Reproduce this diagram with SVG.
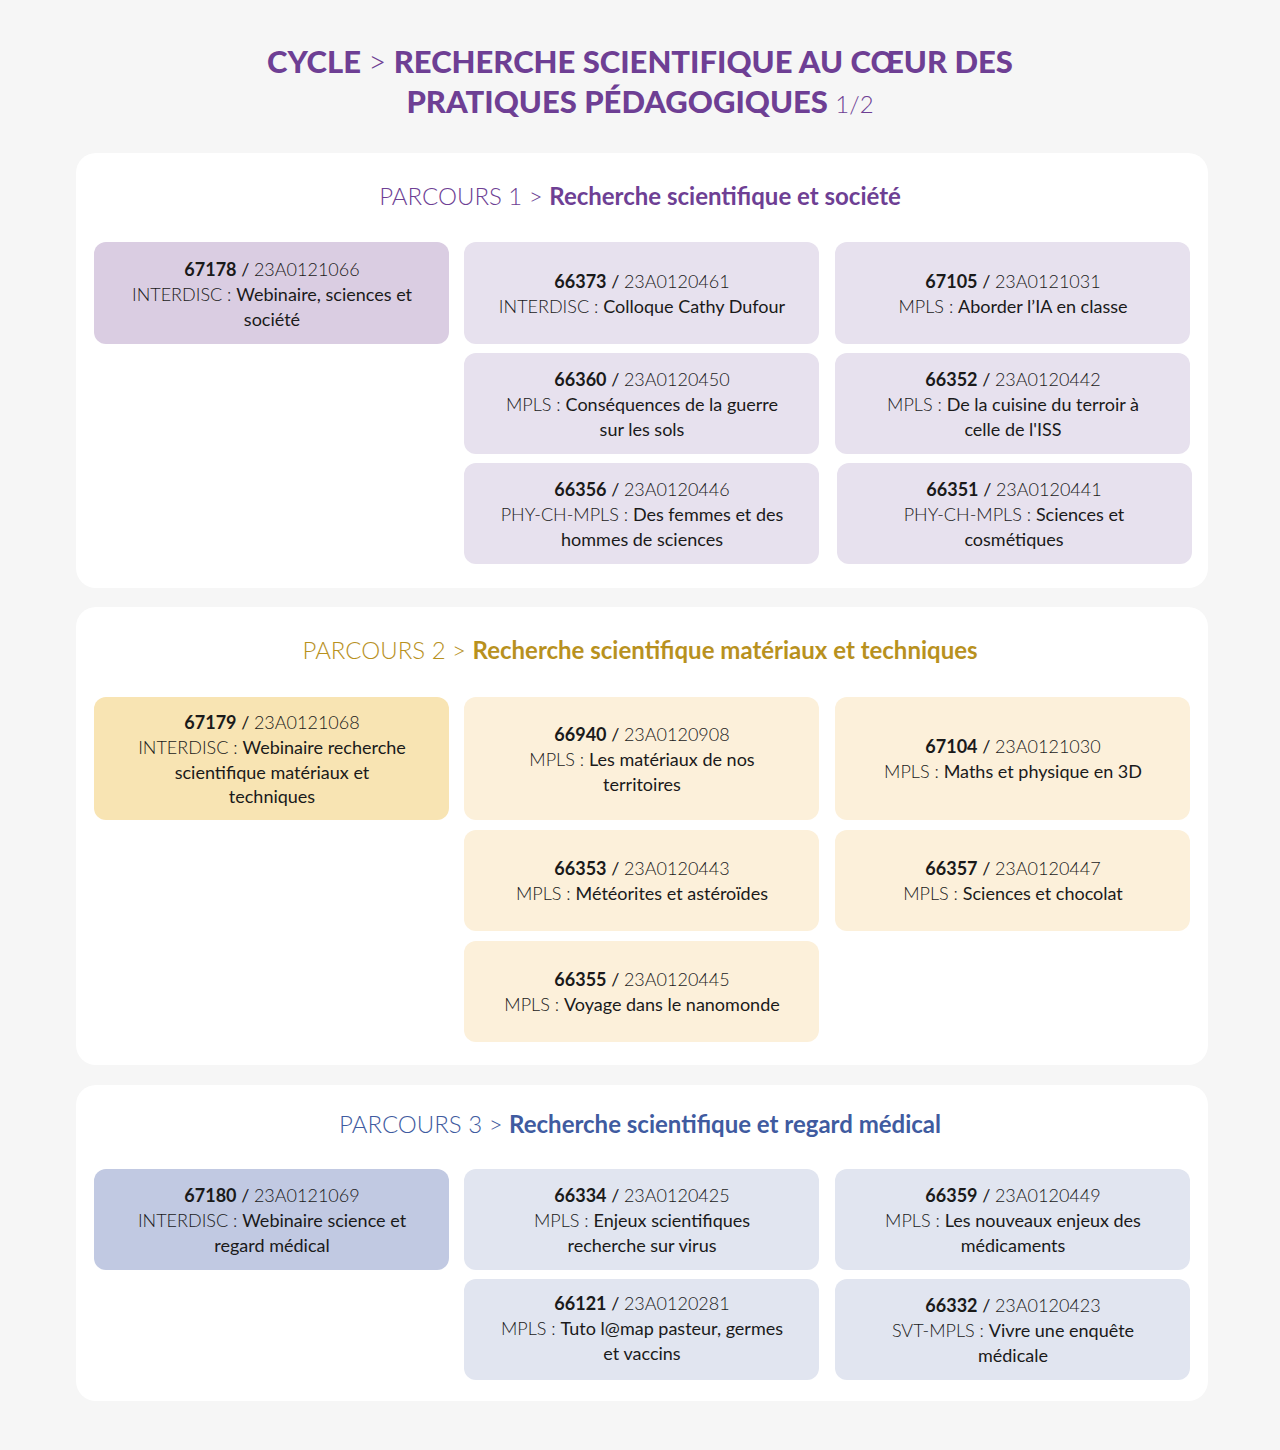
<svg xmlns="http://www.w3.org/2000/svg" width="1280" height="1450" viewBox="0 0 1280 1450">
<style>
text{font-family:Lato,"Noto Sans",sans-serif;text-anchor:middle;fill:#1a1a1a;font-size:18px}
.b{font-weight:700}.l{font-weight:300}
.t{font-size:31px;font-weight:900;fill:#6E3F94}
.h{font-size:24px}
.card{fill:#fff}
.p1d{fill:#DACDE2}.p1l{fill:#E7E1EE}
.p2d{fill:#F8E4B3}.p2l{fill:#FCF0DA}
.p3d{fill:#C1C9E2}.p3l{fill:#E1E5F0}
</style>
<rect width="1280" height="1450" fill="#F6F6F6"/>
<g id="title">
<text x="640" y="73" class="t">CYCLE <tspan font-weight="300">&gt;</tspan> RECHERCHE SCIENTIFIQUE AU CŒUR DES</text>
<text x="640" y="113" class="t">PRATIQUES PÉDAGOGIQUES <tspan font-weight="300" font-size="24">1/2</tspan></text>
</g>
<g id="parcours1">
<rect class="card" x="76" y="153" width="1132" height="435" rx="20"/>
<text x="640" y="205" class="h" fill="#6E3F94"><tspan class="l" fill="#6E3F94">PARCOURS 1 &gt; </tspan><tspan class="b" fill="#6E3F94">Recherche scientifique et société</tspan></text>
</g>
<g id="n67178"><rect class="p1d" x="94" y="242" width="355" height="102" rx="12"/>
<text x="272" y="276"><tspan class="b">67178</tspan> / <tspan class="l">23A0121066</tspan></text>
<text x="272" y="301"><tspan class="l">INTERDISC : </tspan>Webinaire, sciences et</text>
<text x="272" y="326">société</text></g>
<g id="n66373"><rect class="p1l" x="464" y="242" width="355" height="102" rx="12"/>
<text x="642" y="288"><tspan class="b">66373</tspan> / <tspan class="l">23A0120461</tspan></text>
<text x="642" y="313"><tspan class="l">INTERDISC : </tspan>Colloque Cathy Dufour</text></g>
<g id="n67105"><rect class="p1l" x="835" y="242" width="355" height="102" rx="12"/>
<text x="1013" y="288"><tspan class="b">67105</tspan> / <tspan class="l">23A0121031</tspan></text>
<text x="1013" y="313"><tspan class="l">MPLS : </tspan>Aborder l’IA en classe</text></g>
<g id="n66360"><rect class="p1l" x="464" y="353" width="355" height="101" rx="12"/>
<text x="642" y="386"><tspan class="b">66360</tspan> / <tspan class="l">23A0120450</tspan></text>
<text x="642" y="411"><tspan class="l">MPLS : </tspan>Conséquences de la guerre</text>
<text x="642" y="436">sur les sols</text></g>
<g id="n66352"><rect class="p1l" x="835" y="353" width="355" height="101" rx="12"/>
<text x="1013" y="386"><tspan class="b">66352</tspan> / <tspan class="l">23A0120442</tspan></text>
<text x="1013" y="411"><tspan class="l">MPLS : </tspan>De la cuisine du terroir à</text>
<text x="1013" y="436">celle de l'ISS</text></g>
<g id="n66356"><rect class="p1l" x="464" y="463" width="355" height="101" rx="12"/>
<text x="642" y="496"><tspan class="b">66356</tspan> / <tspan class="l">23A0120446</tspan></text>
<text x="642" y="521"><tspan class="l">PHY-CH-MPLS : </tspan>Des femmes et des</text>
<text x="642" y="546">hommes de sciences</text></g>
<g id="n66351"><rect class="p1l" x="837" y="463" width="355" height="101" rx="12"/>
<text x="1014" y="496"><tspan class="b">66351</tspan> / <tspan class="l">23A0120441</tspan></text>
<text x="1014" y="521"><tspan class="l">PHY-CH-MPLS : </tspan>Sciences et</text>
<text x="1014" y="546">cosmétiques</text></g>

<g id="parcours2">
<rect class="card" x="76" y="607" width="1132" height="458" rx="20"/>
<text x="640" y="659" class="h"><tspan class="l" fill="#B8911E">PARCOURS 2 &gt; </tspan><tspan class="b" fill="#B8911E">Recherche scientifique matériaux et techniques</tspan></text>
</g>
<g id="n67179"><rect class="p2d" x="94" y="697" width="355" height="123" rx="12"/>
<text x="272" y="729"><tspan class="b">67179</tspan> / <tspan class="l">23A0121068</tspan></text>
<text x="272" y="754"><tspan class="l">INTERDISC : </tspan>Webinaire recherche</text>
<text x="272" y="779">scientifique matériaux et</text>
<text x="272" y="803">techniques</text></g>
<g id="n66940"><rect class="p2l" x="464" y="697" width="355" height="123" rx="12"/>
<text x="642" y="741"><tspan class="b">66940</tspan> / <tspan class="l">23A0120908</tspan></text>
<text x="642" y="766"><tspan class="l">MPLS : </tspan>Les matériaux de nos</text>
<text x="642" y="791">territoires</text></g>
<g id="n67104"><rect class="p2l" x="835" y="697" width="355" height="123" rx="12"/>
<text x="1013" y="753"><tspan class="b">67104</tspan> / <tspan class="l">23A0121030</tspan></text>
<text x="1013" y="778"><tspan class="l">MPLS : </tspan>Maths et physique en 3D</text></g>
<g id="n66353"><rect class="p2l" x="464" y="830" width="355" height="101" rx="12"/>
<text x="642" y="875"><tspan class="b">66353</tspan> / <tspan class="l">23A0120443</tspan></text>
<text x="642" y="900"><tspan class="l">MPLS : </tspan>Météorites et astéroïdes</text></g>
<g id="n66357"><rect class="p2l" x="835" y="830" width="355" height="101" rx="12"/>
<text x="1013" y="875"><tspan class="b">66357</tspan> / <tspan class="l">23A0120447</tspan></text>
<text x="1013" y="900"><tspan class="l">MPLS : </tspan>Sciences et chocolat</text></g>
<g id="n66355"><rect class="p2l" x="464" y="941" width="355" height="101" rx="12"/>
<text x="642" y="986"><tspan class="b">66355</tspan> / <tspan class="l">23A0120445</tspan></text>
<text x="642" y="1011"><tspan class="l">MPLS : </tspan>Voyage dans le nanomonde</text></g>

<g id="parcours3">
<rect class="card" x="76" y="1085" width="1132" height="316" rx="20"/>
<text x="640" y="1133" class="h"><tspan class="l" fill="#3F5BA0">PARCOURS 3 &gt; </tspan><tspan class="b" fill="#3F5BA0">Recherche scientifique et regard médical</tspan></text>
</g>
<g id="n67180"><rect class="p3d" x="94" y="1169" width="355" height="101" rx="12"/>
<text x="272" y="1202"><tspan class="b">67180</tspan> / <tspan class="l">23A0121069</tspan></text>
<text x="272" y="1227"><tspan class="l">INTERDISC : </tspan>Webinaire science et</text>
<text x="272" y="1252">regard médical</text></g>
<g id="n66334"><rect class="p3l" x="464" y="1169" width="355" height="101" rx="12"/>
<text x="642" y="1202"><tspan class="b">66334</tspan> / <tspan class="l">23A0120425</tspan></text>
<text x="642" y="1227"><tspan class="l">MPLS : </tspan>Enjeux scientifiques</text>
<text x="642" y="1252">recherche sur virus</text></g>
<g id="n66359"><rect class="p3l" x="835" y="1169" width="355" height="101" rx="12"/>
<text x="1013" y="1202"><tspan class="b">66359</tspan> / <tspan class="l">23A0120449</tspan></text>
<text x="1013" y="1227"><tspan class="l">MPLS : </tspan>Les nouveaux enjeux des</text>
<text x="1013" y="1252">médicaments</text></g>
<g id="n66121"><rect class="p3l" x="464" y="1279" width="355" height="101" rx="12"/>
<text x="642" y="1310"><tspan class="b">66121</tspan> / <tspan class="l">23A0120281</tspan></text>
<text x="642" y="1335"><tspan class="l">MPLS : </tspan>Tuto l@map pasteur, germes</text>
<text x="642" y="1360">et vaccins</text></g>
<g id="n66332"><rect class="p3l" x="835" y="1279" width="355" height="101" rx="12"/>
<text x="1013" y="1312"><tspan class="b">66332</tspan> / <tspan class="l">23A0120423</tspan></text>
<text x="1013" y="1337"><tspan class="l">SVT-MPLS : </tspan>Vivre une enquête</text>
<text x="1013" y="1362">médicale</text></g>
<g id="connectors"/>
</svg>
